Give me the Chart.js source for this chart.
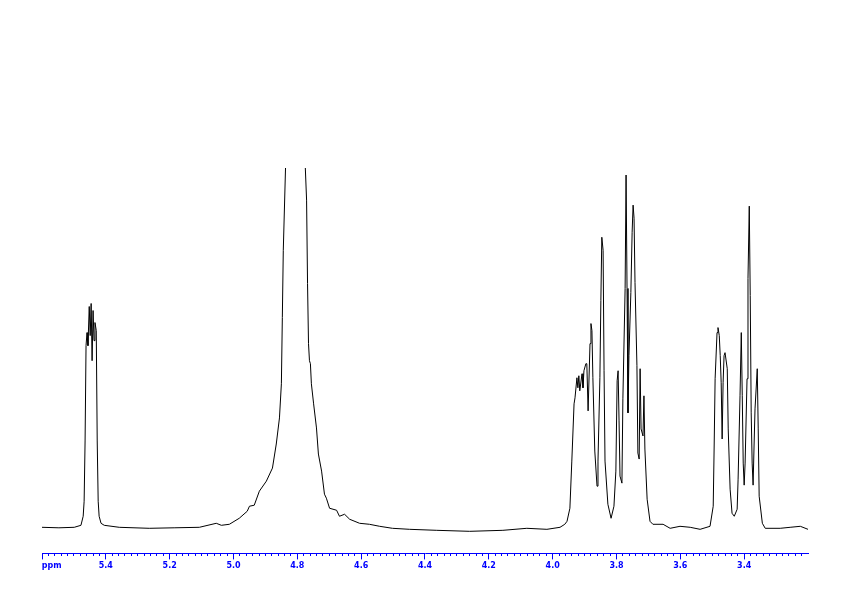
<!DOCTYPE html>
<html>
<head>
<meta charset="utf-8">
<title>1H NMR</title>
<script src="https://cdn.jsdelivr.net/npm/chart.js@4.4.1/dist/chart.umd.min.js"></script>
<style>
  html, body { margin: 0; padding: 0; background: #fff; overflow: hidden; }
  canvas { display: block; }
</style>
</head>
<body>
<canvas id="spectrum" width="842" height="595"></canvas>
<script>
// 化学シフト (ppm) と強度
const ppmValues = [
  5.600, 5.547, 5.499, 5.478, 5.471, 5.468, 5.465, 5.462, 5.459, 5.456,
  5.452, 5.449, 5.446, 5.443, 5.440, 5.437, 5.434, 5.430, 5.427, 5.424,
  5.421, 5.415, 5.405, 5.358, 5.264, 5.186, 5.107, 5.054, 5.038, 5.013,
  4.982, 4.957, 4.950, 4.935, 4.919, 4.897, 4.878, 4.866, 4.856, 4.850,
  4.847, 4.844, 4.837, 4.831, 4.806, 4.781, 4.775, 4.771, 4.768, 4.765,
  4.762, 4.759, 4.756, 4.749, 4.740, 4.734, 4.724, 4.715, 4.709, 4.699,
  4.677, 4.668, 4.652, 4.636, 4.605, 4.574, 4.542, 4.502, 4.448, 4.363,
  4.260, 4.156, 4.081, 4.018, 3.977, 3.962, 3.955, 3.946, 3.940, 3.933,
  3.930, 3.924, 3.921, 3.918, 3.915, 3.908, 3.905, 3.902, 3.896, 3.893,
  3.889, 3.883, 3.880, 3.877, 3.874, 3.868, 3.861, 3.858, 3.852, 3.849,
  3.846, 3.842, 3.839, 3.836, 3.827, 3.817, 3.808, 3.802, 3.798, 3.795,
  3.792, 3.789, 3.783, 3.780, 3.773, 3.770, 3.767, 3.764, 3.761, 3.755,
  3.751, 3.748, 3.745, 3.742, 3.736, 3.733, 3.729, 3.726, 3.723, 3.717,
  3.714, 3.711, 3.704, 3.695, 3.686, 3.654, 3.632, 3.601, 3.569, 3.538,
  3.507, 3.497, 3.494, 3.491, 3.485, 3.482, 3.478, 3.475, 3.472, 3.469,
  3.466, 3.463, 3.460, 3.453, 3.450, 3.444, 3.438, 3.431, 3.422, 3.419,
  3.413, 3.409, 3.406, 3.403, 3.400, 3.397, 3.391, 3.388, 3.384, 3.381,
  3.378, 3.375, 3.372, 3.369, 3.366, 3.359, 3.356, 3.353, 3.343, 3.334,
  3.287, 3.256, 3.224, 3.200
];

const intensities = [
  26, 25.5, 26, 28, 37, 52, 112, 207, 220, 207,
  246, 217, 249, 192, 242, 212, 230, 222, 112, 52,
  37, 30, 28, 26, 25, 25.5, 26, 30, 28, 29,
  35, 42, 47, 48, 62, 72, 85, 109, 135, 169,
  235, 302, 384, 442, 492, 442, 384, 352, 269, 209,
  192, 189, 169, 149, 125, 99, 82, 59, 55, 45,
  43, 37, 39, 34, 30, 29, 27, 25, 24, 23,
  22, 23, 25, 24, 26, 29, 32, 45, 92, 149,
  155, 175, 165, 177, 162, 179, 165, 182, 189, 189,
  142, 209, 229, 222, 175, 102, 67, 92, 175, 252,
  315, 302, 182, 92, 49, 35, 47, 82, 172, 182,
  132, 77, 70, 154, 264, 377, 264, 140, 197, 260,
  320, 347, 334, 270, 187, 100, 94, 184, 124, 117,
  157, 104, 54, 32, 29, 29, 25, 27, 26, 24,
  27, 47, 107, 174, 220, 225, 217, 197, 170, 114,
  170, 197, 200, 184, 124, 64, 40, 37, 44, 74,
  157, 220, 157, 90, 68, 90, 174, 274, 346, 257,
  140, 90, 68, 107, 144, 184, 124, 57, 30, 25,
  25, 26, 27, 24
];

// 目盛り
const majorStep = 0.2;
const minorStep = 0.02;
const axisMin = 3.2;
const axisMax = 5.6;

const AXIS_BLUE = '#0000ff';

function tickLabel(value) {
  if (Math.abs(value - axisMax) < 1e-6) return '       ppm';
  if (Math.abs(value - axisMin) < 1e-6) return '';
  return value.toFixed(1);
}

// 右端 (3.2) には目盛りを描かない
function tickColor(c) {
  return Math.abs(c.tick.value - axisMin) < 1e-6 ? 'rgba(0,0,0,0)' : AXIS_BLUE;
}

const points = ppmValues.map((p, i) => ({ x: p, y: intensities[i] }));

const ctx = document.getElementById('spectrum').getContext('2d');
const chart = new Chart(ctx, {
  type: 'line',
  data: {
    datasets: [{
      data: points,
      borderColor: '#000000',
      borderWidth: 1,
      pointRadius: 0,
      tension: 0,
      fill: false
    }]
  },
  options: {
    responsive: false,
    animation: false,
    layout: {
      padding: { left: 42, right: 34, top: 168, bottom: 22 }
    },
    plugins: {
      legend: { display: false },
      tooltip: { enabled: false }
    },
    scales: {
      x: {
        type: 'linear',
        position: 'bottom',
        reverse: true,
        min: axisMin,
        max: axisMax,
        ticks: {
          stepSize: majorStep,
          autoSkip: false,
          maxRotation: 0,
          padding: 2,
          color: AXIS_BLUE,
          font: { family: 'DejaVu Sans', size: 8, weight: 'bold' },
          callback: tickLabel
        },
        grid: {
          drawOnChartArea: false,
          tickLength: 6,
          color: AXIS_BLUE,
          tickColor: tickColor,
          lineWidth: 1
        },
        border: { color: AXIS_BLUE, width: 1 }
      },
      // 小目盛り
      xMinor: {
        type: 'linear',
        axis: 'x',
        position: { y: 0 },
        reverse: true,
        min: axisMin,
        max: axisMax,
        ticks: { stepSize: minorStep, display: false },
        grid: {
          drawOnChartArea: false,
          tickLength: 3,
          color: AXIS_BLUE,
          tickColor: tickColor,
          lineWidth: 1
        },
        border: { display: false }
      },
      y: {
        display: false,
        min: 0,
        max: 384
      }
    }
  }
});
</script>
</body>
</html>
